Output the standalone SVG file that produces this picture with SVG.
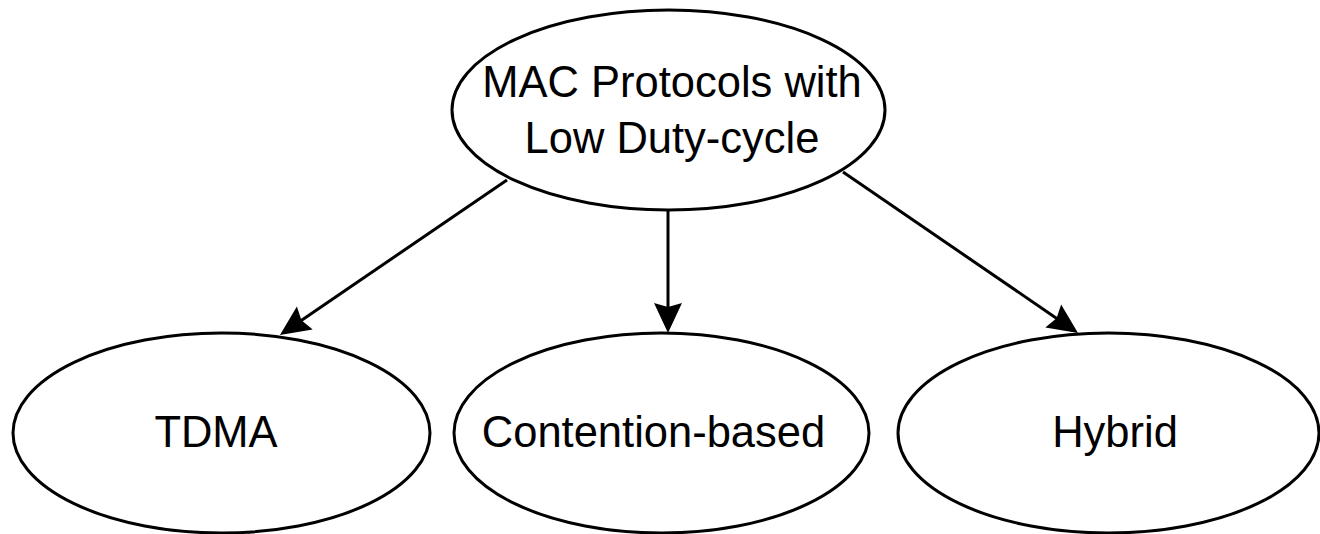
<svg xmlns="http://www.w3.org/2000/svg" width="1320" height="534" viewBox="0 0 1320 534">
<style>
.node ellipse{fill:#fff;stroke:#000;stroke-width:3}
.node text{font-family:"Liberation Sans",Arial,sans-serif;font-size:43.5px;fill:#000;text-anchor:middle}
.edge{stroke:#000;stroke-width:3;fill:none;marker-end:url(#arrow)}
</style>
<defs>
<marker id="arrow" markerUnits="userSpaceOnUse" markerWidth="32" markerHeight="30" viewBox="0 0 32 30" refX="10" refY="15" orient="auto">
<path d="M0,1 L30,15 L0,29 L4,15 Z" fill="#000"/>
</marker>
</defs>
<rect width="1320" height="534" fill="#fff"/>
<g id="connectors">
<line class="edge" x1="507" y1="180" x2="296.5" y2="323.7"/>
<line class="edge" x1="668" y1="210" x2="668" y2="313"/>
<line class="edge" x1="843" y1="172" x2="1061.5" y2="321.7"/>
</g>
<g id="root" class="node">
<ellipse cx="668.5" cy="110" rx="216.5" ry="100"/>
<text x="672" y="97">MAC Protocols with</text>
<text x="672" y="153">Low Duty-cycle</text>
</g>
<g id="tdma" class="node">
<ellipse cx="221.5" cy="433" rx="208.5" ry="100"/>
<text x="216" y="447">TDMA</text>
</g>
<g id="contention" class="node">
<ellipse cx="661.5" cy="433" rx="207.5" ry="100"/>
<text x="653.5" y="447">Contention-based</text>
</g>
<g id="hybrid" class="node">
<ellipse cx="1108.5" cy="433" rx="210.5" ry="100"/>
<text x="1115" y="447">Hybrid</text>
</g>
</svg>
